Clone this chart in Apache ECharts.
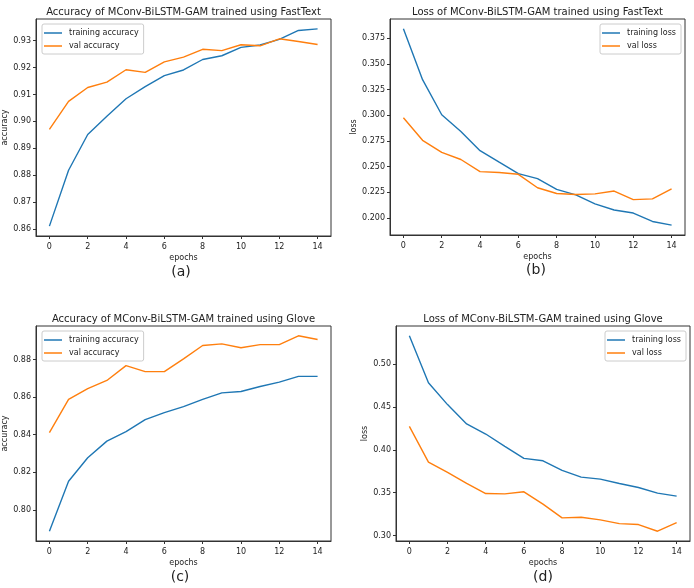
<!DOCTYPE html>
<html>
<head>
<meta charset="utf-8">
<script src="https://cdn.jsdelivr.net/npm/echarts@6/dist/echarts.min.js"></script>
<style>
  html, body { margin: 0; padding: 0; background: #fff; }
  #chart { width: 694px; height: 588px; }
</style>
</head>
<body>
<div id="chart"></div>
<script>
const epochs = [0, 1, 2, 3, 4, 5, 6, 7, 8, 9, 10, 11, 12, 13, 14];
const epochTicks = [0, 2, 4, 6, 8, 10, 12, 14];

// (a) FastText accuracy
const fastTrainAcc = [0.861, 0.8818, 0.8951, 0.9019, 0.9084, 0.9129, 0.9170, 0.9191, 0.9230, 0.9244, 0.9275, 0.9284, 0.9305, 0.9338, 0.9344];
const fastValAcc = [0.8970, 0.9074, 0.9126, 0.9146, 0.9192, 0.9182, 0.9221, 0.9239, 0.9268, 0.9263, 0.9285, 0.9281, 0.9307, 0.9297, 0.9286];
const fastAccTicks = [0.86, 0.87, 0.88, 0.89, 0.90, 0.91, 0.92, 0.93];

// (b) FastText loss
const fastTrainLoss = [0.3842, 0.3347, 0.3006, 0.2842, 0.2656, 0.2544, 0.2433, 0.2384, 0.2279, 0.2226, 0.2138, 0.2079, 0.2049, 0.1967, 0.1931];
const fastValLoss = [0.2977, 0.2757, 0.2639, 0.2570, 0.2452, 0.2443, 0.2426, 0.2295, 0.2239, 0.2230, 0.2236, 0.2263, 0.2180, 0.2187, 0.2285];
const fastLossTicks = [0.200, 0.225, 0.250, 0.275, 0.300, 0.325, 0.350, 0.375];

// (c) Glove accuracy
const gloveTrainAcc = [0.7886, 0.8152, 0.8277, 0.8366, 0.8416, 0.8480, 0.8518, 0.8550, 0.8588, 0.8623, 0.8630, 0.8657, 0.8680, 0.8711, 0.8711];
const gloveValAcc = [0.8411, 0.8588, 0.8646, 0.8689, 0.8768, 0.8736, 0.8736, 0.8804, 0.8875, 0.8884, 0.8863, 0.8880, 0.8880, 0.8927, 0.8907];
const gloveAccTicks = [0.80, 0.82, 0.84, 0.86, 0.88];

// (d) Glove loss
const gloveTrainLoss = [0.5331, 0.4782, 0.4528, 0.4302, 0.4185, 0.4041, 0.3901, 0.3873, 0.3760, 0.3682, 0.3659, 0.3608, 0.3561, 0.3495, 0.3460];
const gloveValLoss = [0.4275, 0.3858, 0.3737, 0.3608, 0.3491, 0.3487, 0.3511, 0.3367, 0.3207, 0.3214, 0.3183, 0.3140, 0.3129, 0.3051, 0.3152];
const gloveLossTicks = [0.30, 0.35, 0.40, 0.45, 0.50];

const BLUE = '#1f77b4';
const ORANGE = '#ff7f0e';
const TXT = '#222';
const FONT = 'DejaVu Sans';

const panels = [
  { title: 'Accuracy of MConv-BiLSTM-GAM trained using FastText', tag: '(a)', yName: 'accuracy',
    names: ['training accuracy', 'val accuracy'], train: fastTrainAcc, val: fastValAcc, ticks: fastAccTicks, dec: 2,
    grid: { left: 36, top: 19, width: 295, height: 217 }, legend: { left: 42, top: 24 }, legendRight: false,
    tagX: 181, tagY: 273 },
  { title: 'Loss of MConv-BiLSTM-GAM trained using FastText', tag: '(b)', yName: 'loss',
    names: ['training loss', 'val loss'], train: fastTrainLoss, val: fastValLoss, ticks: fastLossTicks, dec: 3,
    grid: { left: 390, top: 19, width: 295, height: 216 }, legend: { right: 694 - 681, top: 24 }, legendRight: true,
    tagX: 536, tagY: 271 },
  { title: 'Accuracy of MConv-BiLSTM-GAM trained using Glove', tag: '(c)', yName: 'accuracy',
    names: ['training accuracy', 'val accuracy'], train: gloveTrainAcc, val: gloveValAcc, ticks: gloveAccTicks, dec: 2,
    grid: { left: 36, top: 326, width: 295, height: 215 }, legend: { left: 42, top: 331 }, legendRight: false,
    tagX: 180, tagY: 578 },
  { title: 'Loss of MConv-BiLSTM-GAM trained using Glove', tag: '(d)', yName: 'loss',
    names: ['training loss', 'val loss'], train: gloveTrainLoss, val: gloveValLoss, ticks: gloveLossTicks, dec: 2,
    grid: { left: 396, top: 326, width: 294, height: 215 }, legend: { right: 694 - 686, top: 331 }, legendRight: true,
    tagX: 543, tagY: 578 }
];

// matplotlib-like 5% margins around the data
function yRange(a, b) {
  const lo = Math.min(...a, ...b), hi = Math.max(...a, ...b);
  const m = (hi - lo) * 0.05;
  return [lo - m, hi + m];
}

const option = {
  backgroundColor: '#fff',
  animation: false,
  title: [],
  legend: [],
  grid: [],
  xAxis: [],
  yAxis: [],
  series: []
};

panels.forEach((p, i) => {
  const cx = p.grid.left + p.grid.width / 2;
  option.title.push({
    text: p.title, left: cx, top: p.grid.top - 12, textAlign: 'center', padding: 0,
    textStyle: { fontFamily: FONT, fontSize: 10, fontWeight: 'normal', color: TXT }
  });
  option.title.push({
    text: p.tag, left: p.tagX, top: p.tagY - 8, textAlign: 'center', padding: 0,
    textStyle: { fontFamily: FONT, fontSize: 14, fontWeight: 'normal', color: TXT }
  });
  option.grid.push(Object.assign({ show: true, borderColor: '#333', borderWidth: 1, containLabel: false }, p.grid));
  const legend = {
    orient: 'vertical', top: p.legend.top, padding: [5, 5, 4, 2], itemGap: 5,
    borderColor: '#ccc', borderWidth: 1, borderRadius: 2, backgroundColor: '#fff',
    icon: 'rect', itemWidth: 18, itemHeight: 1.5,
    data: p.names,
    textStyle: { fontFamily: FONT, fontSize: 8, color: TXT, padding: [0, 0, 0, 2] }
  };
  if (p.legendRight) legend.right = p.legend.right; else legend.left = p.legend.left;
  option.legend.push(legend);

  option.xAxis.push({
    type: 'value', gridIndex: i, min: -0.7, max: 14.7,
    name: 'epochs', nameLocation: 'middle', nameGap: 18,
    nameTextStyle: { fontFamily: FONT, fontSize: 8, color: TXT },
    axisLine: { show: true, onZero: false, lineStyle: { color: '#333', width: 1 } },
    axisTick: { show: true, length: 3, customValues: epochTicks, lineStyle: { color: '#333' } },
    axisLabel: { customValues: epochTicks, margin: 7, fontFamily: FONT, fontSize: 8, color: TXT },
    splitLine: { show: false }
  });
  const r = yRange(p.train, p.val);
  option.yAxis.push({
    type: 'value', gridIndex: i, min: r[0], max: r[1],
    name: p.yName, nameLocation: 'middle', nameGap: 27,
    nameTextStyle: { fontFamily: FONT, fontSize: 8, color: TXT },
    axisLine: { show: true, onZero: false, lineStyle: { color: '#333', width: 1 } },
    axisTick: { show: true, length: 3, customValues: p.ticks, lineStyle: { color: '#333' } },
    axisLabel: { customValues: p.ticks, margin: 5, fontFamily: FONT, fontSize: 8, color: TXT,
      formatter: v => v.toFixed(p.dec) },
    splitLine: { show: false }
  });
  [[p.names[0], p.train, BLUE], [p.names[1], p.val, ORANGE]].forEach(([name, vals, color]) => {
    option.series.push({
      name, type: 'line', xAxisIndex: i, yAxisIndex: i,
      data: epochs.map((e, k) => [e, vals[k]]),
      showSymbol: false, symbol: 'none', color,
      lineStyle: { color, width: 1.4 }
    });
  });
});

const chart = echarts.init(document.getElementById('chart'), null, { renderer: 'canvas' });
chart.setOption(option);
</script>
</body>
</html>
